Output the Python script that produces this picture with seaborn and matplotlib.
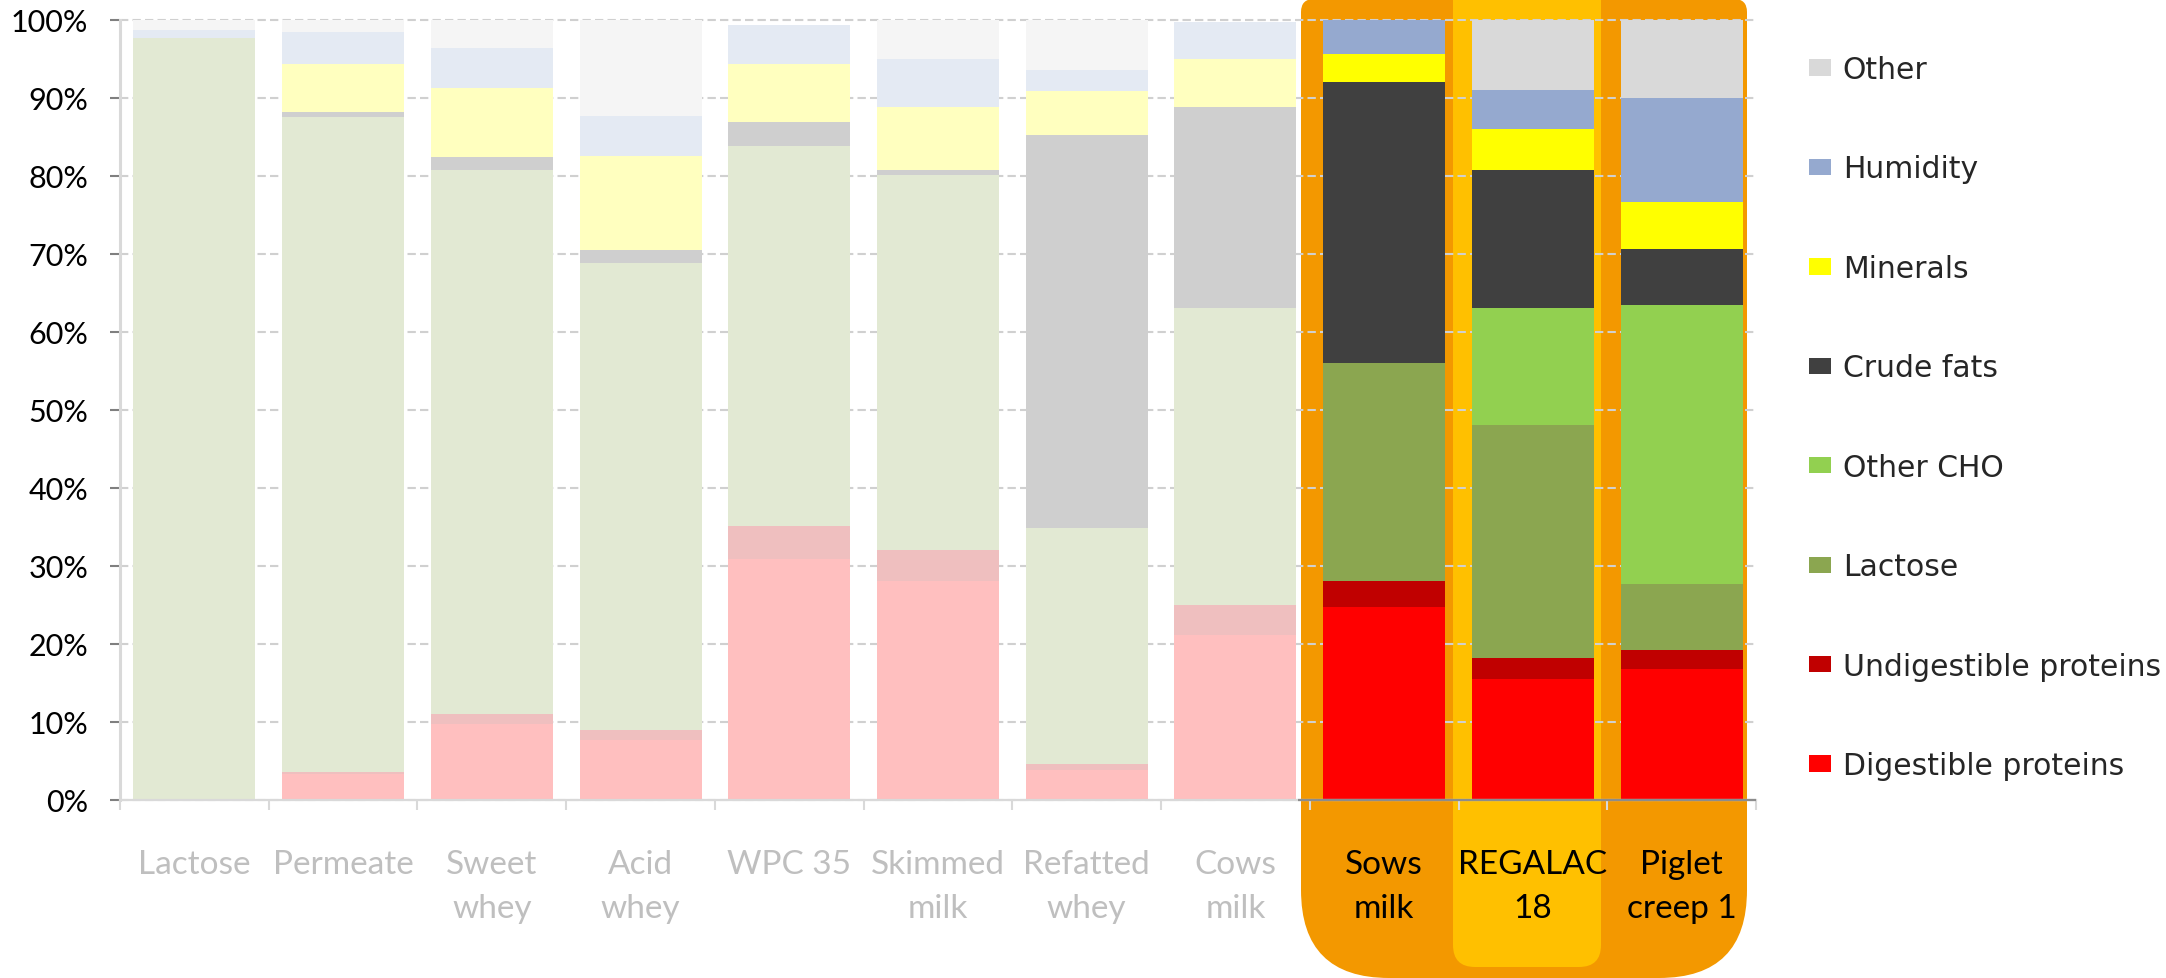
import numpy as np
import pandas as pd
import matplotlib
matplotlib.use("Agg")
import matplotlib.pyplot as plt
import seaborn as sns
from matplotlib.patches import FancyBboxPatch, Patch
from matplotlib.colors import to_rgb

# ---------------- data ----------------
categories = ["Lactose", "Permeate", "Sweet\nwhey", "Acid\nwhey", "WPC 35",
              "Skimmed\nmilk", "Refatted\nwhey", "Cows\nmilk",
              "Sows\nmilk", "REGALAC\n18", "Piglet\ncreep 1"]
highlighted = [False, False, False, False, False, False, False, False,
               True, True, True]

components = ["Digestible proteins", "Undigestible proteins", "Lactose",
              "Other CHO", "Crude fats", "Minerals", "Humidity", "Other"]

digestible_proteins   = [0.0, 3.3, 9.7, 7.65, 30.9, 28.1, 3.9, 21.2, 24.7, 15.5, 16.8]
undigestible_proteins = [0.0, 0.25, 1.3, 1.3, 4.2, 4.0, 0.7, 3.8, 3.4, 2.7, 2.4]
lactose               = [97.7, 84.05, 69.8, 59.95, 48.7, 48.0, 30.3, 38.1, 27.9, 29.9, 8.5]
other_cho             = [0.0, 0.0, 0.0, 0.0, 0.0, 0.0, 0.0, 0.0, 0.0, 15.0, 35.7]
crude_fats            = [0.0, 0.6, 1.7, 1.65, 3.1, 0.7, 50.3, 25.8, 36.0, 17.7, 7.2]
minerals              = [0.0, 6.2, 8.8, 12.0, 7.5, 8.1, 5.7, 6.1, 3.7, 5.2, 6.1]
humidity              = [1.0, 4.0, 5.1, 5.1, 5.0, 6.1, 2.7, 4.8, 4.3, 5.0, 13.3]
other                 = [1.3, 1.6, 3.6, 12.4, 0.0, 5.0, 6.4, 0.0, 0.0, 9.0, 10.0]

series = [digestible_proteins, undigestible_proteins, lactose, other_cho,
          crude_fats, minerals, humidity, other]

colors = {"Digestible proteins": "#FF0000", "Undigestible proteins": "#C00000",
          "Lactose": "#8BA650", "Other CHO": "#92D050", "Crude fats": "#404040",
          "Minerals": "#FFFF00", "Humidity": "#95A9CF", "Other": "#D9D9D9"}

y_ticks = [0, 10, 20, 30, 40, 50, 60, 70, 80, 90, 100]
y_ticklabels = [f"{v}%" for v in y_ticks]


def fade(c, a=0.25):
    r, g, b = to_rgb(c)
    return (a * r + 1 - a, a * g + 1 - a, a * b + 1 - a)


# ---------------- figure ----------------
sns.set_style("white")
plt.rcParams["font.family"] = ["Lato", "DejaVu Sans"]

W, H = 2166, 979
fig = plt.figure(figsize=(W / 100, H / 100), dpi=100)

# background axes in pixel units (for the orange highlight panel)
bg = fig.add_axes([0, 0, 1, 1], zorder=0)
bg.set_xlim(0, W)
bg.set_ylim(H, 0)
bg.axis("off")

ax_l, ax_r, ax_t, ax_b = 120, 1756, 21, 801
ax = fig.add_axes([ax_l / W, (H - ax_b) / H, (ax_r - ax_l) / W, (ax_b - ax_t) / H], zorder=1)
ax.patch.set_alpha(0)

orange = "#F39800"
gold = "#FFC000"
# outer panel: small radius at top, large radius at bottom (union of two boxes)
bg.add_patch(FancyBboxPatch((1301, 0), 446, 500,
                            boxstyle="round,pad=0,rounding_size=13",
                            fc=orange, ec="none"))
bg.add_patch(FancyBboxPatch((1301, 100), 446, H - 100,
                            boxstyle="round,pad=0,rounding_size=88",
                            fc=orange, ec="none"))
# inner column for REGALAC
bg.add_patch(FancyBboxPatch((1453, -60), 148, 968 + 60,
                            boxstyle="round,pad=0,rounding_size=22",
                            fc=gold, ec="none"))

# ---------------- stacked bars (drawn as cumulative overlays) ----------------
df = pd.DataFrame({"category": categories})
cum = np.zeros(len(categories))
cums = []
for s in series:
    cum = cum + np.array(s)
    cums.append(cum.copy())

for k in range(len(components) - 1, -1, -1):
    comp = components[k]
    df["value"] = cums[k]
    pal = {c: (colors[comp] if h else fade(colors[comp]))
           for c, h in zip(categories, highlighted)}
    sns.barplot(data=df, x="category", y="value", hue="category", order=categories,
                palette=pal, saturation=1, width=0.82, linewidth=0,
                legend=False, ax=ax, errorbar=None)

# ---------------- axes styling ----------------
ax.set_xlim(-0.5, len(categories) - 0.5)
ax.set_ylim(0, 100)
ax.set_xlabel("")
ax.set_ylabel("")

for side in ["top", "right"]:
    ax.spines[side].set_visible(False)
ax.spines["left"].set_color("#D9D9D9")
ax.spines["left"].set_linewidth(2.2)
ax.spines["bottom"].set_color("#D9D9D9")
ax.spines["bottom"].set_linewidth(1.6)

ax.set_axisbelow(True)
ax.yaxis.grid(True, color="#D0D0D0", linestyle=(0, (4, 2)), linewidth=1.5)
ax.xaxis.grid(False)

ax.set_yticks(y_ticks)
ax.set_yticklabels(y_ticklabels)
ax.tick_params(axis="y", which="major", length=7, width=1.5, color="#7F7F7F",
               pad=16, labelsize=22, labelcolor="black", left=True)

ax.set_xticks(range(len(categories)))
ax.set_xticklabels(categories, linespacing=1.62)
ax.tick_params(axis="x", which="major", length=0, pad=35, labelsize=24)
ax.set_xticks(np.arange(-0.5, len(categories), 1), minor=True)
ax.tick_params(axis="x", which="minor", length=7, width=1.5, color="#D9D9D9",
               direction="out", bottom=True)

for lbl, h in zip(ax.get_xticklabels(), highlighted):
    lbl.set_color("black" if h else "#BFBFBF")

for t, pos in zip(ax.xaxis.get_minor_ticks(), np.arange(-0.5, len(categories), 1)):
    if pos >= 7.5:
        t.tick1line.set_color("#8C8C8C")

for gl in ax.get_ygridlines():
    gl.set_clip_on(False)

# darker axis segment over highlight panel
x0 = (7.42 + 0.5) / len(categories)
ax.axhline(0, xmin=x0, xmax=1.0, color="#8C8C8C", linewidth=1.6, zorder=5,
           clip_on=False, solid_capstyle="butt")

# ---------------- legend ----------------
handles = [Patch(facecolor=colors[c], edgecolor="none", label=c)
           for c in components[::-1]]
leg = fig.legend(handles=handles, loc="upper left",
                 bbox_to_anchor=(1809 / W, (H - 56) / H),
                 frameon=False, prop={"family": "DejaVu Sans", "size": 21.5},
                 handlelength=0.73, handleheight=0.47, handletextpad=0.4,
                 labelspacing=2.36, borderpad=0, borderaxespad=0)

fig.savefig("out.png", dpi=100)
